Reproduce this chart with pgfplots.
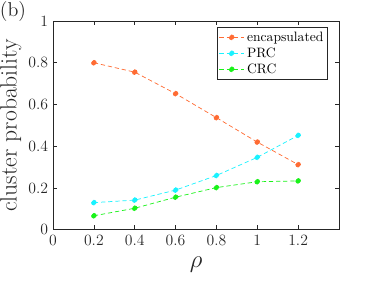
\documentclass[border=0pt]{standalone}
\usepackage{pgfplots}
\pgfplotsset{compat=1.18}
\definecolor{enc}{rgb}{1,0.42,0.2}
\definecolor{prc}{rgb}{0.1,0.95,1}
\definecolor{crc}{rgb}{0.1,0.95,0.1}
\definecolor{axgray}{rgb}{0.15,0.15,0.15}
\begin{document}
\begin{tikzpicture}
\path[use as bounding box] (-37.1pt,-35.7pt) rectangle (224.5pt,160.7pt);
\begin{axis}[
  at={(0,0)}, anchor=south west,
  scale only axis, width=200pt, height=146pt,
  xmin=0, xmax=1.4, ymin=0, ymax=1,
  xtick={0,0.2,0.4,0.6,0.8,1,1.2},
  xticklabels={0,0.2,0.4,0.6,0.8,1,1.2},
  ytick={0,0.2,0.4,0.6,0.8,1},
  yticklabels={0,0.2,0.4,0.6,0.8,1},
  tick align=inside, major tick length=3pt,
  axis line style={axgray, line width=0.4pt},
  tick style={axgray, line width=0.4pt},
  ticklabel style={font=\fontsize{11}{12}\selectfont, text=axgray},
  xlabel={$\rho$}, ylabel={cluster probability},
  label style={font=\fontsize{16.5}{19}\selectfont, text=axgray},
  xlabel style={yshift=-1pt},
  ylabel style={inner sep=0pt, yshift=1.2pt},
  legend style={at={(1,1)}, anchor=north east, xshift=-7.7pt, yshift=-4.2pt,
    draw=axgray, line width=0.4pt, font=\fontsize{9.5}{11}\selectfont, inner sep=1pt,
    row sep=-1pt, cells={anchor=west}},
  every axis plot/.append style={densely dashed, line width=0.5pt, mark=*, mark size=1.7pt, mark options={solid}},
]
\addplot[enc, mark options={fill=enc, draw=enc}] coordinates {(0.2,0.800) (0.4,0.755) (0.6,0.652) (0.8,0.537) (1.0,0.420) (1.2,0.312)};
\addlegendentry{encapsulated}
\addplot[prc, mark options={fill=prc, draw=prc}] coordinates {(0.2,0.130) (0.4,0.142) (0.6,0.190) (0.8,0.260) (1.0,0.347) (1.2,0.452)};
\addlegendentry{PRC}
\addplot[crc, mark options={fill=crc, draw=crc}] coordinates {(0.2,0.067) (0.4,0.103) (0.6,0.156) (0.8,0.202) (1.0,0.230) (1.2,0.234)};
\addlegendentry{CRC}
\end{axis}
\node[font=\fontsize{14}{16}\selectfont, text=axgray] at (-28pt,153pt) {(b)};
\end{tikzpicture}
\end{document}
